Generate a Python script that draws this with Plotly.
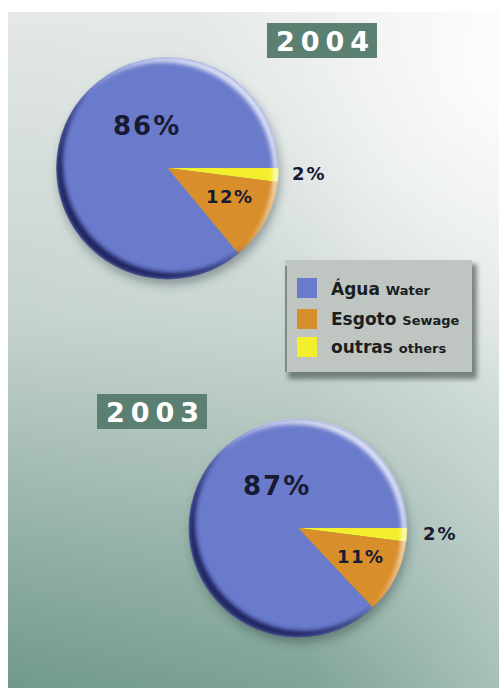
import base64
import plotly.graph_objects as go

# ---- data -------------------------------------------------------------
years = ["2004", "2003"]
labels_pt = ["Água", "Esgoto", "outras"]
labels_en = ["Water", "Sewage", "others"]
values_2004 = [86, 12, 2]
values_2003 = [87, 11, 2]
slice_colors = ["#6a7bcb", "#d98e2c", "#f3ef2c"]

# ---- page geometry (pixels, margin-free figure) -------------------------
W, H = 499, 688
PANEL = (8, 12, 499, 688)                      # gradient panel x0, y0, x1, y1
PIE_GEOM = {"2004": (167.5, 168, 111), "2003": (298, 528, 109)}   # cx, cy, r
YEAR_BOX = {"2004": (267, 23, 377, 58), "2003": (97, 394, 207, 429)}
LEGEND_BOX = (285, 260, 472, 372)
LEGEND_ROWS_Y = [288, 319, 347]
# label offsets from the pie centre, font size, letter spacing
LABEL_STYLE = [(-22, -42, 26, 2), (62, 28, 18, 1.5), (141, 5, 18, 2)]

TEXT_DARK = "#181a33"
BOX_GREEN = "#5b7f70"


def px(x):
    return x / W


def py(y):
    return 1 - y / H


def svg_uri(body):
    svg = (f'<svg xmlns="http://www.w3.org/2000/svg" width="{W}" height="{H}" '
           f'viewBox="0 0 {W} {H}">{body}</svg>')
    return "data:image/svg+xml;base64," + base64.b64encode(svg.encode()).decode()


# ---- background: panel gradient and soft drop shadows --------------------
x0, y0, x1, y1 = PANEL
bg = [
    "<defs>",
    '<linearGradient id="v" x1="0" y1="0" x2="0" y2="1">'
    '<stop offset="0" stop-color="#e4e8e6"/>'
    '<stop offset="0.45" stop-color="#c6d3ce"/>'
    '<stop offset="1" stop-color="#71998a"/></linearGradient>',
    '<linearGradient id="h" x1="0" y1="0" x2="1" y2="0">'
    '<stop offset="0" stop-color="#ffffff" stop-opacity="0"/>'
    '<stop offset="0.6" stop-color="#ffffff" stop-opacity="0.1"/>'
    '<stop offset="1" stop-color="#ffffff" stop-opacity="0.38"/></linearGradient>',
    f'<radialGradient id="glow" gradientUnits="userSpaceOnUse" cx="520" cy="70" r="330">'
    '<stop offset="0" stop-color="#ffffff" stop-opacity="0.9"/>'
    '<stop offset="1" stop-color="#ffffff" stop-opacity="0"/></radialGradient>',
    '<filter id="sh" x="-30%" y="-30%" width="160%" height="160%">'
    '<feGaussianBlur stdDeviation="5"/></filter>',
    '<filter id="sh2" x="-30%" y="-30%" width="160%" height="160%">'
    '<feGaussianBlur stdDeviation="2.5"/></filter>',
    "</defs>",
    f'<rect x="{x0}" y="{y0}" width="{x1 - x0}" height="{y1 - y0}" fill="url(#v)"/>',
    f'<rect x="{x0}" y="{y0}" width="{x1 - x0}" height="{y1 - y0}" fill="url(#h)"/>',
    f'<rect x="{x0}" y="{y0}" width="{x1 - x0}" height="{y1 - y0}" fill="url(#glow)"/>',
]
for yr in years:
    cx, cy, r = PIE_GEOM[yr]
    bg.append(f'<circle cx="{cx + 2}" cy="{cy + 6}" r="{r}" fill="#2a3440" '
              f'fill-opacity="0.4" filter="url(#sh)"/>')
lx0, ly0, lx1, ly1 = LEGEND_BOX
bg.append(f'<rect x="{lx0 + 3}" y="{ly0 + 4}" width="{lx1 - lx0 + 2}" height="{ly1 - ly0 + 3}" '
          f'fill="#55625d" fill-opacity="0.75" filter="url(#sh2)"/>')
background_src = svg_uri("".join(bg))

# ---- bevel overlay on the pie rims ---------------------------------------
ov = ['<defs><filter id="soft" x="-10%" y="-10%" width="120%" height="120%">'
      '<feGaussianBlur stdDeviation="2"/></filter>']
for i, yr in enumerate(years):
    cx, cy, r = PIE_GEOM[yr]
    ov.append(f'<clipPath id="c{i}"><circle cx="{cx}" cy="{cy}" r="{r + 0.5}"/></clipPath>')
    ov.append(f'<mask id="d{i}"><rect width="{W}" height="{H}" fill="black"/>'
              f'<circle cx="{cx}" cy="{cy}" r="{r}" fill="white"/>'
              f'<circle cx="{cx + 6}" cy="{cy - 6}" r="{r}" fill="black"/></mask>')
    ov.append(f'<mask id="l{i}"><rect width="{W}" height="{H}" fill="black"/>'
              f'<circle cx="{cx}" cy="{cy}" r="{r}" fill="white"/>'
              f'<circle cx="{cx - 5}" cy="{cy + 5}" r="{r}" fill="black"/></mask>')
ov.append("</defs>")
for i, yr in enumerate(years):
    ov.append(f'<g clip-path="url(#c{i})"><g filter="url(#soft)">'
              f'<rect width="{W}" height="{H}" fill="#1d205c" mask="url(#d{i})"/>'
              f'<rect width="{W}" height="{H}" fill="#ffffff" fill-opacity="0.8" mask="url(#l{i})"/>'
              f'</g></g>')
overlay_src = svg_uri("".join(ov))

# ---- figure --------------------------------------------------------------
fig = go.Figure()
series = {"2004": values_2004, "2003": values_2003}
for yr in years:
    cx, cy, r = PIE_GEOM[yr]
    vals = series[yr]
    fig.add_trace(go.Pie(
        values=vals[::-1],
        labels=labels_pt[::-1],
        marker=dict(colors=slice_colors[::-1], line=dict(width=0)),
        sort=False,
        direction="clockwise",
        rotation=90,
        textinfo="none",
        hoverinfo="label+percent",
        showlegend=False,
        domain=dict(x=[px(cx - r), px(cx + r)], y=[py(cy + r), py(cy - r)]),
    ))

shapes = []
annotations = []

# year headers
for yr in years:
    bx0, by0, bx1, by1 = YEAR_BOX[yr]
    shapes.append(dict(type="rect", xref="paper", yref="paper", layer="below",
                       x0=px(bx0), x1=px(bx1), y0=py(by1), y1=py(by0),
                       fillcolor=BOX_GREEN, line=dict(width=0)))
    annotations.append(dict(
        xref="paper", yref="paper", x=px((bx0 + bx1) / 2 + 3), y=py((by0 + by1) / 2 + 1),
        xanchor="center", yanchor="middle", showarrow=False,
        text=f"<span style='letter-spacing:6px'>{yr}</span>",
        font=dict(family="DejaVu Sans", size=27, color="white", weight="bold")))

# percentage labels
for yr in years:
    cx, cy, r = PIE_GEOM[yr]
    for v, (dx, dy, fs, ls) in zip(series[yr], LABEL_STYLE):
        annotations.append(dict(
            xref="paper", yref="paper", x=px(cx + dx + ls / 2), y=py(cy + dy),
            xanchor="center", yanchor="middle", showarrow=False,
            text=f"<span style='letter-spacing:{ls}px'>{v}%</span>",
            font=dict(family="DejaVu Sans", size=fs, color=TEXT_DARK, weight="bold")))

# legend panel
shapes.append(dict(type="rect", xref="paper", yref="paper", layer="below",
                   x0=px(lx0), x1=px(lx1), y0=py(ly1), y1=py(ly0),
                   fillcolor="#bfc6c2", line=dict(width=0)))
shapes.append(dict(type="line", xref="paper", yref="paper", layer="below",
                   x0=px(lx0 + 1), x1=px(lx0 + 1), y0=py(ly1), y1=py(ly0 + 6),
                   line=dict(color="#7f8b86", width=2)))
for color, pt, en, ry in zip(slice_colors, labels_pt, labels_en, LEGEND_ROWS_Y):
    shapes.append(dict(type="rect", xref="paper", yref="paper", layer="below",
                       x0=px(297), x1=px(317), y0=py(ry + 10), y1=py(ry - 10),
                       fillcolor=color, line=dict(width=0)))
    annotations.append(dict(
        xref="paper", yref="paper", x=px(329), y=py(ry),
        xanchor="left", yanchor="middle", showarrow=False,
        text=f"{pt} <span style='font-size:13px'>{en}</span>",
        font=dict(family="DejaVu Sans", size=17, color="#1a1e21", weight="bold")))

fig.update_layout(
    width=W, height=H,
    margin=dict(l=0, r=0, t=0, b=0),
    paper_bgcolor="white",
    shapes=shapes,
    annotations=annotations,
    images=[
        dict(source=background_src, xref="paper", yref="paper", x=0, y=1,
             sizex=1, sizey=1, sizing="stretch", xanchor="left", yanchor="top",
             layer="below"),
        dict(source=overlay_src, xref="paper", yref="paper", x=0, y=1,
             sizex=1, sizey=1, sizing="stretch", xanchor="left", yanchor="top",
             layer="above"),
    ],
)

fig.write_html("out.html", config={"displayModeBar": False})
